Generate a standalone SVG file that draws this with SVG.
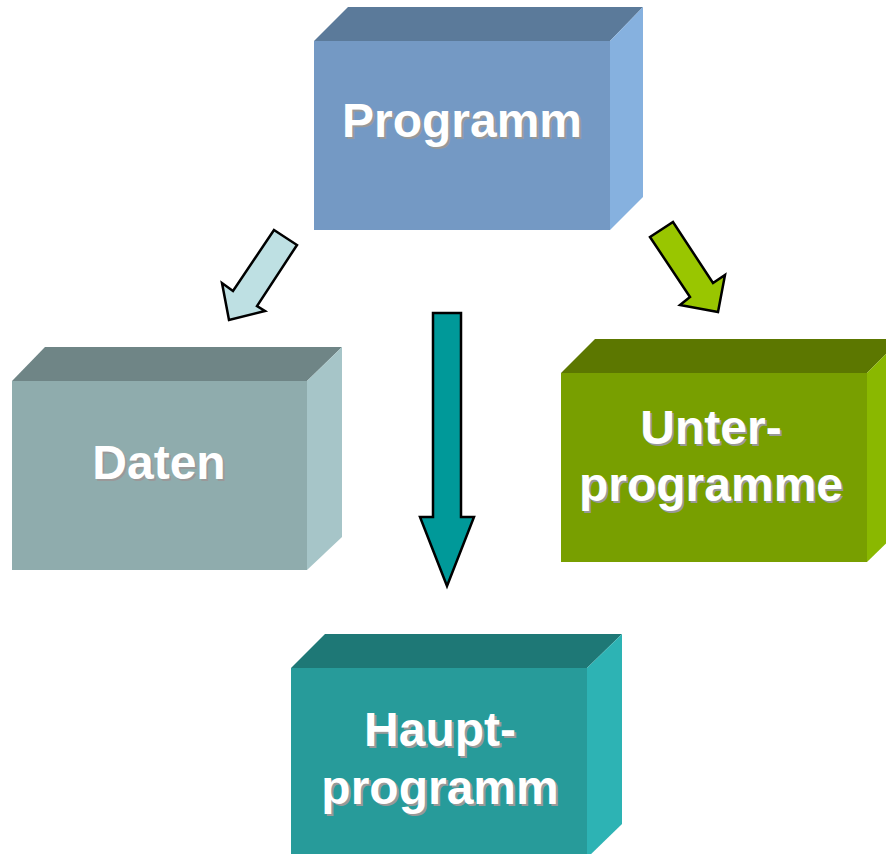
<svg xmlns="http://www.w3.org/2000/svg" width="886" height="854" viewBox="0 0 886 854">
<style>
.lbl{font-family:"Liberation Sans",Arial,sans-serif;font-weight:bold;font-size:48px;text-anchor:middle}
.sh{fill:#999999}
.tx{fill:#ffffff}
.arr{stroke:#000;stroke-width:2.5;stroke-linejoin:miter}
</style>
<rect width="886" height="854" fill="#ffffff"/>
<g id="programm">
<polygon points="314,41 348,7 643,7 610,41" fill="#5B7A9A"/>
<polygon points="610,41 643,7 643,197 610,230" fill="#86B1DF"/>
<rect x="314" y="41" width="296" height="189" fill="#7499C4"/>
<text class="lbl sh" x="464" y="139">Programm</text>
<text class="lbl tx" x="462" y="137">Programm</text>
</g>
<g id="daten">
<polygon points="12,381 45,347 342,347 307,381" fill="#6F8586"/>
<polygon points="307,381 342,347 342,537 307,570" fill="#A6C5C8"/>
<rect x="12" y="381" width="295" height="189" fill="#8FACAD"/>
<text class="lbl sh" x="161" y="481">Daten</text>
<text class="lbl tx" x="159" y="479">Daten</text>
</g>
<g id="unterprogramme">
<polygon points="561,373 595,339 901,339 867,373" fill="#5C7700"/>
<polygon points="867,373 901,339 901,529 867,562" fill="#8AB800"/>
<rect x="561" y="373" width="306" height="189" fill="#789F00"/>
<text class="lbl sh" x="713" y="446">Unter-</text>
<text class="lbl tx" x="711" y="444">Unter-</text>
<text class="lbl sh" x="713" y="503">programme</text>
<text class="lbl tx" x="711" y="501">programme</text>
</g>
<g id="hauptprogramm">
<polygon points="291,668 325,634 622,634 587,668" fill="#1E7876"/>
<polygon points="587,668 622,634 622,824 587,858" fill="#2DB3B4"/>
<rect x="291" y="668" width="296" height="190" fill="#279B9A"/>
<text class="lbl sh" x="442" y="748">Haupt-</text>
<text class="lbl tx" x="440" y="746">Haupt-</text>
<text class="lbl sh" x="442" y="806">programm</text>
<text class="lbl tx" x="440" y="804">programm</text>
</g>
<g id="connectors">
<polygon class="arr" fill="#BEE0E3" points="274,230 297,245 257,306 265,311 229,320 222,283 233,291"/>
<polygon class="arr" fill="#99C600" points="650,237 673,222 713,283 725,275 718,312 680,305 690,297"/>
<polygon class="arr" fill="#009999" points="433,313 461,313 461,517 474,517 447,586 420,517 433,517"/>
</g>
</svg>
